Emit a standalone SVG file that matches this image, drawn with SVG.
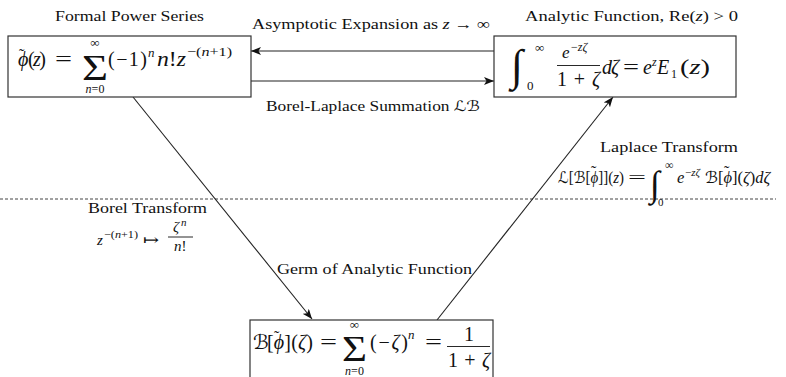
<svg xmlns="http://www.w3.org/2000/svg" width="786" height="377" viewBox="0 0 786 377">
<style>
text{font-family:"Liberation Serif","DejaVu Serif",serif;fill:#111;}
.lbl{font-size:14.5px;}
.m{font-size:20px;}
.i{font-style:italic;}
.s{font-size:13px;}
.box{fill:#fff;stroke:#333;stroke-width:1.2;}
.con{stroke:#222;stroke-width:1.1;fill:none;}
.dash{stroke:#444;stroke-width:1;stroke-dasharray:3 2;fill:none;}
.bar{stroke:#111;stroke-width:0.9;}
.big{font-size:36px;}
.scr{font-family:"DejaVu Serif","DejaVu Sans",serif;font-style:italic;}
.tl{font-size:16px;}
</style>
<defs>
<marker id="ah" viewBox="0 0 10 8" refX="10" refY="4" markerWidth="10" markerHeight="8" markerUnits="userSpaceOnUse" orient="auto">
<path d="M0,0 L10,4 L0,8 L2.5,4 z" fill="#111"/>
</marker>
</defs>

<line class="dash" x1="0" y1="199" x2="776" y2="199"/>

<g id="connectors">
<line class="con" x1="494" y1="51" x2="251" y2="51" marker-end="url(#ah)"/>
<line class="con" x1="251" y1="81" x2="494" y2="81" marker-end="url(#ah)"/>
<line class="con" x1="133" y1="97" x2="312" y2="319" marker-end="url(#ah)"/>
<line class="con" x1="437" y1="320" x2="613" y2="97" marker-end="url(#ah)"/>
<text class="lbl" x="252" y="29" textLength="238" lengthAdjust="spacingAndGlyphs">Asymptotic Expansion as <tspan class="i">z</tspan> → ∞</text>
<text class="lbl" x="266" y="111" textLength="214" lengthAdjust="spacingAndGlyphs">Borel-Laplace Summation <tspan class="scr">ℒℬ</tspan></text>
<g id="borel-label">
<text class="lbl" x="88" y="213" textLength="119" lengthAdjust="spacingAndGlyphs">Borel Transform</text>
<text x="97" y="245" class="i" style="font-size:15px">z</text>
<text x="104" y="238" style="font-size:11px" textLength="34" lengthAdjust="spacingAndGlyphs">−(<tspan class="i">n</tspan>+1)</text>
<text x="143" y="245" style="font-size:15px" textLength="16" lengthAdjust="spacingAndGlyphs">↦</text>
<text x="173" y="232" class="i" style="font-size:15px">ζ</text>
<text x="181" y="226" class="i" style="font-size:11px">n</text>
<line class="bar" x1="168" y1="237" x2="193" y2="237"/>
<text x="174" y="251" style="font-size:15px"><tspan class="i">n</tspan>!</text>
</g>
<g id="laplace-label">
<text class="lbl" x="600" y="152" textLength="138" lengthAdjust="spacingAndGlyphs">Laplace Transform</text>
<text x="558" y="183" style="font-size:16.5px" textLength="66" lengthAdjust="spacingAndGlyphs"><tspan class="scr">ℒ</tspan>[<tspan class="scr">ℬ</tspan>[<tspan class="i">ϕ</tspan>]](<tspan class="i">z</tspan>)</text>
<text x="591" y="177" class="tl">˜</text>
<text x="628" y="183" style="font-size:16.5px" textLength="18" lengthAdjust="spacingAndGlyphs">=</text>
<text x="650" y="196" style="font-size:36px" class="i">∫</text>
<text x="665" y="169" style="font-size:12px">∞</text>
<text x="658" y="206" style="font-size:11px">0</text>
<text x="677" y="183" style="font-size:16.5px"><tspan class="i">e</tspan></text>
<text x="685" y="176" style="font-size:11px">−<tspan class="i">zζ</tspan></text>
<text x="705" y="183" style="font-size:16.5px"><tspan class="scr">ℬ</tspan>[<tspan class="i">ϕ</tspan>](<tspan class="i">ζ</tspan>)<tspan class="i">dζ</tspan></text>
<text x="724" y="177" class="tl">˜</text>
</g>
<text class="lbl" x="277" y="274" textLength="195" lengthAdjust="spacingAndGlyphs">Germ of Analytic Function</text>
</g>

<g id="formal-power-series">
<text class="lbl" x="55" y="21" textLength="149" lengthAdjust="spacingAndGlyphs">Formal Power Series</text>
<rect class="box" x="8" y="36" width="243" height="61"/>
<text class="m i" x="18" y="66">ϕ</text>
<text x="19" y="60" class="tl">˜</text>
<text class="m" x="28" y="66" textLength="18" lengthAdjust="spacing">(<tspan class="i">z</tspan>)</text>
<text class="m" x="55" y="66" textLength="17" lengthAdjust="spacingAndGlyphs">=</text>
<text class="big" x="82" y="80" textLength="26" lengthAdjust="spacingAndGlyphs">Σ</text>
<text class="s" x="95" y="47" text-anchor="middle">∞</text>
<text x="95" y="93" text-anchor="middle" style="font-size:12px"><tspan class="i">n</tspan>=0</text>
<text class="m" x="108" y="66" textLength="39" lengthAdjust="spacing">(−1)</text>
<text class="s i" x="148" y="57">n</text>
<text class="m" x="157" y="66" textLength="29" lengthAdjust="spacingAndGlyphs"><tspan class="i">n</tspan>!<tspan class="i">z</tspan></text>
<text class="s" x="187" y="56" textLength="45" lengthAdjust="spacingAndGlyphs">−(<tspan class="i">n</tspan>+1)</text>
</g>

<g id="analytic-function">
<text class="lbl" x="525" y="21" textLength="213" lengthAdjust="spacingAndGlyphs">Analytic Function, Re(<tspan class="i">z</tspan>) &gt; 0</text>
<rect class="box" x="494" y="36" width="242" height="61"/>
<text x="511" y="80" style="font-size:44px" class="i">∫</text>
<text class="s" x="535" y="52">∞</text>
<text class="s" x="527" y="90">0</text>
<text x="562" y="58" class="i" style="font-size:17px">e</text>
<text x="571" y="51" style="font-size:12px">−<tspan class="i">zζ</tspan></text>
<line class="bar" x1="557" y1="65.5" x2="600" y2="65.5"/>
<text x="557" y="86" class="m" textLength="43" lengthAdjust="spacing">1 + <tspan class="i">ζ</tspan></text>
<text class="m i" x="602" y="74" textLength="17" lengthAdjust="spacing">dζ</text>
<text class="m" x="623" y="74" textLength="16" lengthAdjust="spacingAndGlyphs">=</text>
<text class="m i" x="643" y="74">e</text>
<text class="i" x="652" y="66" style="font-size:12px">z</text>
<text class="m i" x="657" y="74">E</text>
<text x="671" y="78" style="font-size:12px">1</text>
<text x="680" y="74" style="font-size:21px" textLength="30" lengthAdjust="spacingAndGlyphs">(<tspan class="i">z</tspan>)</text>
</g>

<g id="borel-transform">
<rect class="box" x="250" y="320" width="243" height="70"/>
<text class="m scr" x="253" y="349">ℬ</text>
<text class="m" x="267" y="349" textLength="46" lengthAdjust="spacing">[<tspan class="i">ϕ</tspan>](<tspan class="i">ζ</tspan>)</text>
<text x="274" y="342" class="tl">˜</text>
<text class="m" x="320" y="349" textLength="17" lengthAdjust="spacingAndGlyphs">=</text>
<text class="big" x="342" y="361" textLength="25" lengthAdjust="spacingAndGlyphs">Σ</text>
<text class="s" x="354.5" y="329" text-anchor="middle">∞</text>
<text x="354.5" y="375" text-anchor="middle" style="font-size:12px"><tspan class="i">n</tspan>=0</text>
<text class="m" x="370" y="349" textLength="38" lengthAdjust="spacing">(−<tspan class="i">ζ</tspan>)</text>
<text class="s i" x="408" y="339">n</text>
<text class="m" x="425" y="349" textLength="17" lengthAdjust="spacingAndGlyphs">=</text>
<text class="m" x="469" y="341" text-anchor="middle">1</text>
<line class="bar" x1="447" y1="346.5" x2="490" y2="346.5"/>
<text class="m" x="448" y="367" textLength="42" lengthAdjust="spacing">1 + <tspan class="i">ζ</tspan></text>
</g>
</svg>
